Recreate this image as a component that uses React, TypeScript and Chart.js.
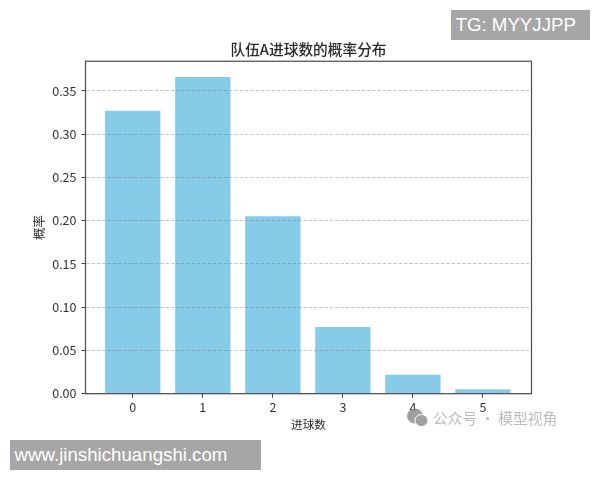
import { useRef, useEffect } from "react";
import { Chart, registerables } from "chart.js";

Chart.register(...registerables);

const goals = [0, 1, 2, 3, 4, 5];
const probabilities = [0.327, 0.366, 0.205, 0.077, 0.022, 0.005];
const yTicks = [0, 0.05, 0.1, 0.15, 0.2, 0.25, 0.3, 0.35];

const cjkFont = '"Noto Sans CJK SC", sans-serif';

// Matplotlib style frame on all four sides of the plot
const framePlugin = {
  id: "frame",
  afterDraw(chart: Chart) {
    const { ctx, chartArea } = chart;
    ctx.save();
    ctx.strokeStyle = "#4a4a4a";
    ctx.lineWidth = 1.2;
    ctx.strokeRect(chartArea.left, chartArea.top, chartArea.right - chartArea.left, chartArea.bottom - chartArea.top);
    ctx.restore();
  },
};

const boxStyle = {
  position: "absolute",
  background: "#a6a6a6",
  color: "#fff",
  fontFamily: '"Liberation Sans", sans-serif',
  fontSize: 18.7,
  lineHeight: "30px",
  paddingLeft: 4.5,
  boxSizing: "border-box",
  height: 30,
} as const;

export default function App() {
  const chartRef = useRef<HTMLCanvasElement>(null);

  useEffect(() => {
    if (!chartRef.current) return;
    document.body.style.margin = "0";

    const chart = new Chart(chartRef.current, {
      type: "bar",
      data: {
        datasets: [
          {
            data: goals.map((g, i) => ({ x: g, y: probabilities[i] })),
            backgroundColor: "#86cce9",
            categoryPercentage: 1,
            barPercentage: 0.79,
          },
        ],
      },
      options: {
        responsive: false,
        animation: false,
        layout: { padding: { left: 0, right: 68.5, top: 0, bottom: 48 } },
        plugins: {
          legend: { display: false },
          tooltip: { enabled: false },
          title: {
            display: true,
            text: "队伍A进球数的概率分布",
            color: "#2a2a2a",
            fullSize: false,
            font: { family: cjkFont, size: 14.7, weight: 500 },
            padding: { top: 40.5, bottom: 3.1 },
          },
        },
        scales: {
          x: {
            type: "linear",
            min: -0.675,
            max: 5.693,
            offset: false,
            afterBuildTicks: (scale) => {
              scale.ticks = goals.map((value) => ({ value }));
            },
            afterFit: (scale) => {
              scale.height = 38.3;
            },
            grid: { offset: false, drawOnChartArea: false, tickLength: 4, tickColor: "#444" },
            border: { display: false },
            ticks: {
              color: "#333",
              padding: 2,
              maxRotation: 0,
              font: { family: cjkFont, size: 12.5 },
              callback: (v) => String(Math.round(Number(v))),
            },
            title: {
              display: true,
              text: "进球数",
              color: "#2a2a2a",
              font: { family: cjkFont, size: 11.7 },
              padding: { top: 1, bottom: 0 },
            },
          },
          y: {
            min: 0,
            max: 0.3843,
            afterBuildTicks: (scale) => {
              scale.ticks = yTicks.map((value) => ({ value }));
            },
            afterFit: (scale) => {
              scale.width = 85.5;
            },
            grid: {
              z: 1,
              color: "rgba(120,120,120,0.42)",
              lineWidth: 1,
              tickLength: 4,
              tickColor: "#444",
              tickBorderDash: [],
            },
            border: { display: false, dash: [3.5, 1.8] },
            ticks: {
              color: "#333",
              padding: 5,
              font: { family: cjkFont, size: 12.5 },
              callback: (v) => Number(v).toFixed(2),
            },
            title: {
              display: true,
              text: "概率",
              color: "#2a2a2a",
              font: { family: cjkFont, size: 12.5 },
              padding: { top: 32, bottom: 0 },
            },
          },
        },
      },
      plugins: [framePlugin],
    });

    return () => chart.destroy();
  }, []);

  return (
    <div style={{ position: "relative", width: 600, height: 480, overflow: "hidden", background: "#fff" }}>
      <canvas ref={chartRef} width={600} height={480} style={{ display: "block", filter: "blur(0.35px)" }} />
      <div style={{ ...boxStyle, left: 451, top: 10, width: 139 }}>TG: MYYJJPP</div>
      <div style={{ ...boxStyle, left: 10, top: 440, width: 251 }}>www.jinshichuangshi.com</div>
      <svg width={22} height={20} style={{ position: "absolute", left: 407, top: 408 }}>
        <ellipse cx={8} cy={8} rx={8} ry={7.5} fill="#8f8f8f" opacity={0.85} />
        <ellipse cx={14.5} cy={12.5} rx={6.5} ry={6} fill="#a0a0a0" stroke="#fff" strokeWidth={1} />
      </svg>
      <div
        style={{
          position: "absolute",
          left: 433,
          top: 408,
          color: "#bcbcbc",
          fontFamily: cjkFont,
          fontSize: 14.7,
          lineHeight: "20px",
          whiteSpace: "nowrap",
        }}
      >
        公众号 · 模型视角
      </div>
    </div>
  );
}
